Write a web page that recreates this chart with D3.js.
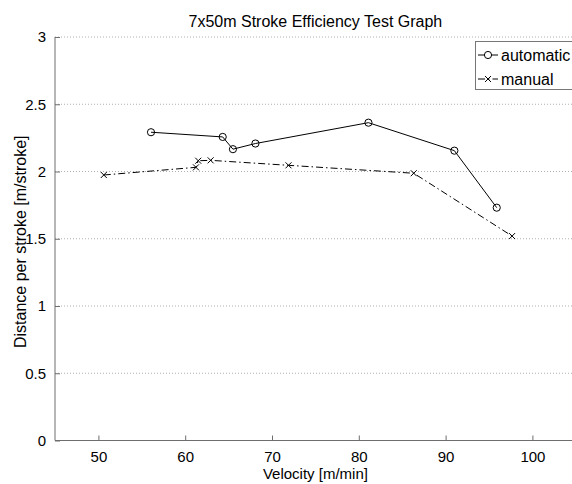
<!DOCTYPE html>
<html>
<head>
<meta charset="utf-8">
<script src="https://cdn.jsdelivr.net/npm/d3@7"></script>
<style>
  html, body { margin: 0; padding: 0; background: #fff; overflow: hidden; }
  text { font-family: "Liberation Sans", Arial, Helvetica, sans-serif; fill: #000; }
</style>
</head>
<body>
<svg id="chart" width="572" height="484"></svg>
<script>
const titleText = "7x50m Stroke Efficiency Test Graph";
const xLabel = "Velocity [m/min]";
const yLabel = "Distance per stroke [m/stroke]";
const seriesNames = ["automatic", "manual"];

const autoVelocity = [56.06, 64.32, 65.5, 68.09, 81.11, 91.01, 95.89];
const autoDistance = [2.292, 2.257, 2.166, 2.208, 2.363, 2.155, 1.731];

const manualVelocity = [50.62, 61.24, 61.5, 62.93, 71.9, 86.33, 97.66];
const manualDistance = [1.974, 2.031, 2.080, 2.083, 2.046, 1.987, 1.520];

const xTicks = [50, 60, 70, 80, 90, 100];
const yTicks = [0, 0.5, 1, 1.5, 2, 2.5, 3];
const xDomain = [45, 105];
const yDomain = [0, 3];

(function () {
const svg = d3.select("#chart");
const pL = 55, pR = 575.8, pT = 37, pB = 440.5;

const x = d3.scaleLinear().domain(xDomain).range([pL, pR]);
const y = d3.scaleLinear().domain(yDomain).range([pB, pT]);

const axisColor = "#6e6e6e";
const fontSize = 15;
const bigFont = 16;

// horizontal grid lines
svg.append("g")
  .selectAll("line")
  .data(yTicks.filter(d => d > 0))
  .join("line")
  .attr("x1", pL).attr("x2", pR)
  .attr("y1", d => y(d)).attr("y2", d => y(d))
  .attr("stroke", "#b0b0b0")
  .attr("stroke-width", 1)
  .attr("stroke-dasharray", "1,2");

// x axis
const xAxis = svg.append("g")
  .attr("transform", `translate(0,${pB})`)
  .call(d3.axisBottom(x).tickValues(xTicks).tickSize(-5).tickPadding(11).tickFormat(d3.format("d")));
xAxis.select(".domain").attr("stroke", axisColor).attr("d", `M${pL},0H${pR}`);
xAxis.selectAll(".tick line").attr("stroke", axisColor);
xAxis.selectAll(".tick text").attr("font-size", fontSize).attr("font-family", "Liberation Sans, Arial, sans-serif").attr("fill", "#000");

// y axis
const yAxis = svg.append("g")
  .attr("transform", `translate(${pL},0)`)
  .call(d3.axisLeft(y).tickValues(yTicks).tickSize(-5).tickPadding(9).tickFormat(d => String(d)));
yAxis.select(".domain").attr("stroke", axisColor).attr("d", `M0,${pB}V${pT}`);
yAxis.selectAll(".tick line").attr("stroke", axisColor);
yAxis.selectAll(".tick text").attr("font-size", fontSize).attr("font-family", "Liberation Sans, Arial, sans-serif").attr("fill", "#000");

// title
svg.append("text")
  .attr("x", (pL + pR) / 2).attr("y", 27)
  .attr("text-anchor", "middle")
  .attr("font-size", bigFont)
  .text(titleText);

// x label
svg.append("text")
  .attr("x", (pL + pR) / 2).attr("y", 479)
  .attr("text-anchor", "middle")
  .attr("font-size", fontSize)
  .text(xLabel);

// y label
svg.append("text")
  .attr("transform", `translate(26,${(pT + pB) / 2 + 3}) rotate(-90)`)
  .attr("text-anchor", "middle")
  .attr("font-size", bigFont)
  .text(yLabel);

const line = d3.line().x(d => x(d[0])).y(d => y(d[1]));

const autoData = autoVelocity.map((v, i) => [v, autoDistance[i]]);
const manualData = manualVelocity.map((v, i) => [v, manualDistance[i]]);

const dashDot = "7,3,1.5,3";

// automatic series
svg.append("path")
  .datum(autoData)
  .attr("d", line)
  .attr("fill", "none")
  .attr("stroke", "#000")
  .attr("stroke-width", 1);
svg.append("g")
  .selectAll("circle")
  .data(autoData)
  .join("circle")
  .attr("cx", d => x(d[0])).attr("cy", d => y(d[1]))
  .attr("r", 3.6)
  .attr("fill", "none")
  .attr("stroke", "#000")
  .attr("stroke-width", 1);

// manual series
svg.append("path")
  .datum(manualData)
  .attr("d", line)
  .attr("fill", "none")
  .attr("stroke", "#000")
  .attr("stroke-width", 1)
  .attr("stroke-dasharray", dashDot);
const xm = 3;
svg.append("g")
  .selectAll("path")
  .data(manualData)
  .join("path")
  .attr("d", d => {
    const cx = x(d[0]), cy = y(d[1]);
    return `M${cx - xm},${cy - xm}L${cx + xm},${cy + xm}M${cx - xm},${cy + xm}L${cx + xm},${cy - xm}`;
  })
  .attr("stroke", "#000")
  .attr("stroke-width", 1);

// legend
const lg = svg.append("g");
lg.append("rect")
  .attr("x", 475.5).attr("y", 41.5)
  .attr("width", 120).attr("height", 48)
  .attr("fill", "#fff")
  .attr("stroke", "#777")
  .attr("stroke-width", 1);
const rows = [55, 79];
seriesNames.forEach((name, i) => {
  const ry = rows[i];
  lg.append("line")
    .attr("x1", 478).attr("x2", 498)
    .attr("y1", ry).attr("y2", ry)
    .attr("stroke", "#000").attr("stroke-width", 1)
    .attr("stroke-dasharray", i === 1 ? dashDot : null);
  if (i === 0) {
    lg.append("circle").attr("cx", 488).attr("cy", ry).attr("r", 3.6)
      .attr("fill", "#fff").attr("stroke", "#000");
  } else {
    lg.append("path")
      .attr("d", `M${488 - xm},${ry - xm}L${488 + xm},${ry + xm}M${488 - xm},${ry + xm}L${488 + xm},${ry - xm}`)
      .attr("stroke", "#000");
  }
  lg.append("text")
    .attr("x", 501).attr("y", ry + 6)
    .attr("font-size", bigFont)
    .text(name);
});
})();
</script>
</body>
</html>
